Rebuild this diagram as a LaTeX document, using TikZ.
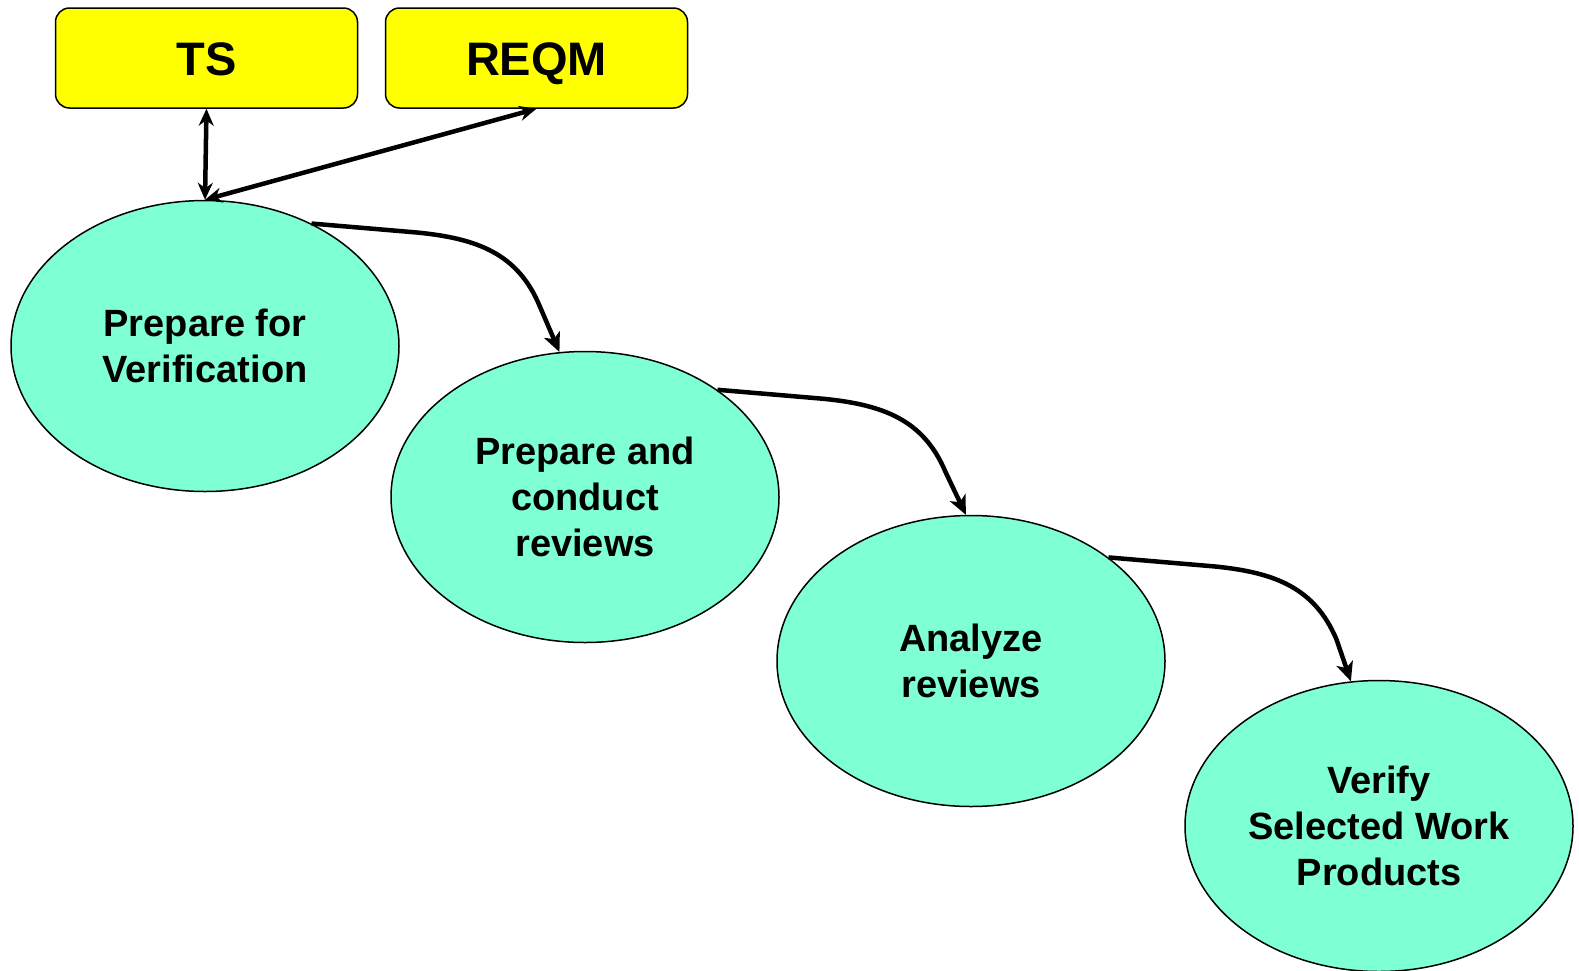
\documentclass[tikz,border=0pt]{standalone}
\usepackage{fontspec}
\setmainfont{Liberation Sans}
\usetikzlibrary{shapes.geometric,arrows.meta}
\definecolor{boxyellow}{RGB}{255,255,0}
\definecolor{aqua}{RGB}{127,255,212}
\begin{document}
\begin{tikzpicture}[x=1pt,y=-1pt,
  topbox/.style={draw=black,line width=1.5pt,fill=boxyellow,rounded corners=14pt,
    minimum width=302pt,minimum height=100pt,inner sep=0pt,text height=34pt,text depth=0pt,
    font=\fontsize{47}{56}\selectfont\bfseries},
  activity/.style={ellipse,draw=black,line width=1.5pt,fill=aqua,
    minimum width=388pt,minimum height=291pt,inner sep=0pt,align=center,
    font=\fontsize{38}{46}\selectfont\bfseries},
  dbl/.style={line width=4.5pt,{Stealth[length=17pt,width=15pt]}-{Stealth[length=17pt,width=15pt]}},
  flow/.style={line width=4.5pt,-{Stealth[length=19pt,width=17pt,inset=5pt]},line join=round}]
\useasboundingbox (0,0) rectangle (1579,970);
\node[topbox] (ts) at (206.5,58) {TS};
\node[topbox] (reqm) at (536.5,58) {REQM};
\node[activity] (e1) at (205,346) {Prepare for\\Verification};
\node[activity] (e2) at (585,497) {Prepare and\\conduct\\reviews};
\node[activity] (e3) at (971,661) {Analyze\\reviews};
\node[activity] (e4) at (1379,826) {Verify\\Selected Work\\Products};
\draw[dbl] (ts.south) -- (e1.north);
\draw[dbl] (reqm.south) -- (e1.north);
\draw[flow] (e1.49) -- ++(106,9) .. controls +(60,6) and +(-22,-52) .. ++(122,73) -- (e2.100);
\draw[flow] (e2.39) -- ++(106,9) .. controls +(60,6) and +(-22,-52) .. ++(122,73) -- (e3.92);
\draw[flow] (e3.37) -- ++(106,9) .. controls +(60,6) and +(-22,-52) .. ++(122,73) -- (e4.101);
\end{tikzpicture}
\end{document}
